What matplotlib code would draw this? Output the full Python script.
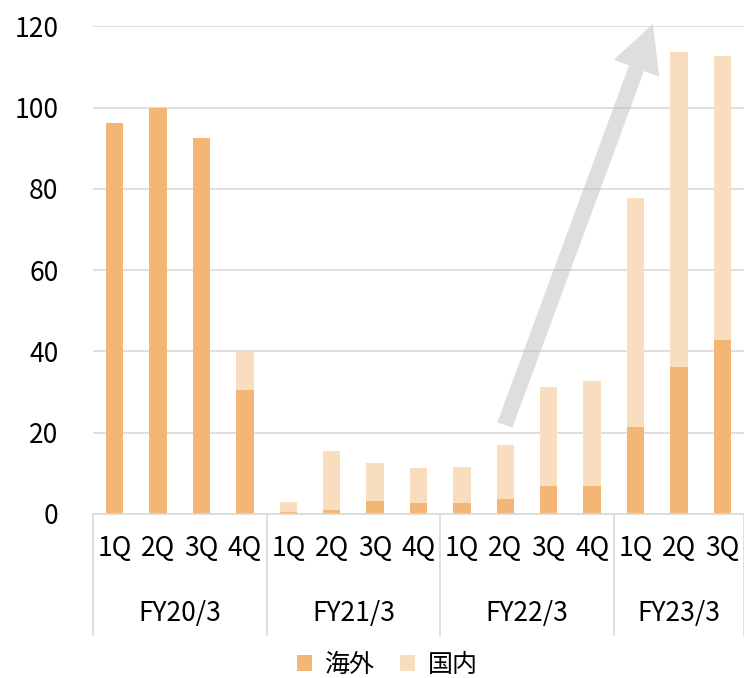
import matplotlib
matplotlib.use("Agg")
import matplotlib.pyplot as plt
from matplotlib.patches import FancyArrowPatch
from matplotlib.lines import Line2D
import numpy as np

plt.rcParams['font.family'] = ['Noto Sans CJK JP', 'DejaVu Sans']

quarters = ["1Q", "2Q", "3Q", "4Q", "1Q", "2Q", "3Q", "4Q", "1Q", "2Q", "3Q", "4Q", "1Q", "2Q", "3Q"]
years = ["FY20/3", "FY21/3", "FY22/3", "FY23/3"]
year_sizes = [4, 4, 4, 3]
overseas = [96.3, 100.0, 92.5, 30.5, 0.5, 1.0, 3.3, 2.7, 2.7, 3.7, 7.0, 7.0, 21.4, 36.2, 42.8]
domestic_total = [96.3, 100.0, 92.5, 39.8, 2.9, 15.4, 12.5, 11.3, 11.6, 17.0, 31.2, 32.8, 77.7, 113.7, 112.7]
domestic = [t - o for t, o in zip(domestic_total, overseas)]
series_names = ["海外", "国内"]

c_over = "#F3B674"
c_dom = "#F9DDBF"
grid_c = "#D9D9D9"

fig = plt.figure(figsize=(7.44, 6.78), dpi=100)
ax = fig.add_axes([93/744, 1 - 514/678, 1 - 93/744, (514 - 26.4)/678])

x = np.arange(len(quarters))
w = 0.405
ax.bar(x, overseas, w, color=c_over, label=series_names[0], zorder=2)
ax.bar(x, domestic, w, bottom=overseas, color=c_dom, label=series_names[1], zorder=2)

ax.set_xlim(-0.5, len(quarters) - 0.5)
ax.set_ylim(0, 120)
ax.set_yticks(np.arange(0, 121, 20))
ax.yaxis.grid(True, color=grid_c, linewidth=1.2, zorder=0)
ax.set_axisbelow(True)
for s in ["top", "right", "left"]:
    ax.spines[s].set_visible(False)
ax.spines["bottom"].set_color(grid_c)
ax.spines["bottom"].set_linewidth(1.2)
ax.tick_params(axis="y", length=0, pad=25, labelsize=19, labelcolor="#000000")
ax.tick_params(axis="x", length=0, pad=15, labelsize=19)
ax.set_xticks(x)
ax.set_xticklabels(quarters)

# group separators and year labels
trans = ax.get_xaxis_transform()
sep_bottom = -(635 - 514) / (514 - 26.4)
bounds = np.concatenate([[0], np.cumsum(year_sizes)]) - 0.5
for b in bounds:
    ax.add_line(Line2D([b, b], [0, sep_bottom], transform=trans, color=grid_c,
                       linewidth=1.2, clip_on=False))
year_y = -(613 - 514) / (514 - 26.4)
for i, yl in enumerate(years):
    cx = (bounds[i] + bounds[i + 1]) / 2
    ax.text(cx, year_y, yl, transform=trans, ha="center", va="center", fontsize=19)

# trend arrow
arrow = FancyArrowPatch((8.99, 21.9), (12.4, 120.6),
                        arrowstyle="simple,head_length=34,head_width=35,tail_width=11.5",
                        mutation_scale=1, color="#BFBFBF", alpha=0.5, linewidth=0,
                        shrinkA=0, shrinkB=0, clip_on=False, zorder=3)
ax.add_patch(arrow)

fig.legend(loc="center", bbox_to_anchor=(387/744, 1 - 665/678), ncol=2, frameon=False,
           fontsize=18, handlelength=0.62, handleheight=0.62, columnspacing=1.0,
           handletextpad=0.5)

fig.savefig("out.png", dpi=100)
